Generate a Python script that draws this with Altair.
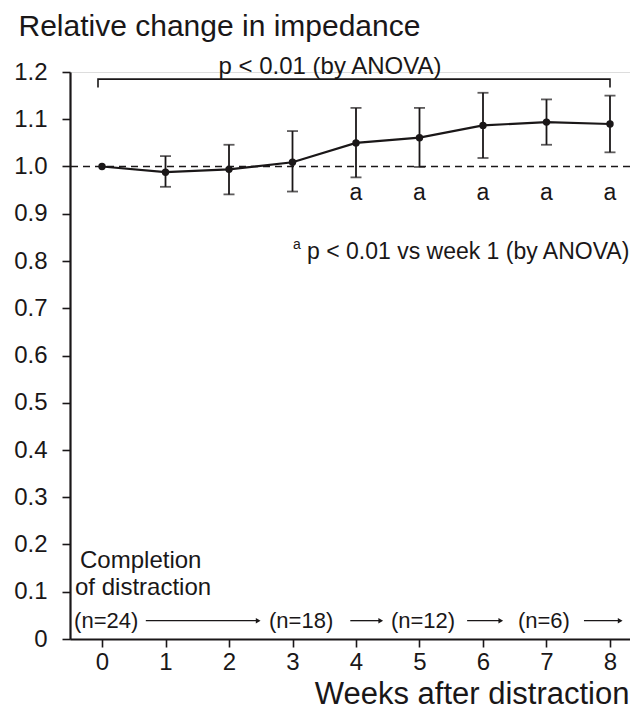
import altair as alt
import pandas as pd

# ---- data ----
weeks = [0, 1, 2, 3, 4, 5, 6, 7, 8]
means = [1.000, 0.988, 0.994, 1.009, 1.050, 1.061, 1.087, 1.094, 1.090]
upper = [None, 1.022, 1.046, 1.075, 1.124, 1.124, 1.156, 1.142, 1.150]
lower = [None, 0.957, 0.941, 0.947, 0.977, 0.999, 1.018, 1.046, 1.030]
sig_weeks = [4, 5, 6, 7, 8]
y_ticks = [0, 0.1, 0.2, 0.3, 0.4, 0.5, 0.6, 0.7, 0.8, 0.9, 1.0, 1.1, 1.2]
x_ticks = [0, 1, 2, 3, 4, 5, 6, 7, 8]

n_labels = ["(n=24)", "(n=18)", "(n=12)", "(n=6)"]
n_label_x = [-0.44, 2.63, 4.55, 6.55]
arrow_start = [0.69, 3.91, 5.75, 7.59]
arrow_end = [2.46, 4.39, 6.28, 8.16]

bracket_x = [-0.063, -0.063, 8.0, 8.0]
bracket_y = [1.167, 1.185, 1.185, 1.167]

FONT = "Liberation Sans"
INK = "#1a1718"

df = pd.DataFrame({"week": weeks, "mean": means, "upper": upper, "lower": lower})
x_scale = alt.Scale(domain=[-0.504, 8.315], nice=False, zero=False)
y_scale = alt.Scale(domain=[0, 1.2], nice=False, zero=False)

x_axis = alt.Axis(values=x_ticks, format="d", grid=False, tickSize=8, tickWidth=1.6,
                  domainWidth=2.2, domainColor=INK, tickColor=INK, labelColor=INK,
                  labelFont=FONT, labelFontSize=24, labelBaseline="alphabetic",
                  labelPadding=22, title="Weeks after distraction", titleFont=FONT,
                  titleFontSize=31, titleFontWeight="normal", titleColor=INK,
                  titleAlign="right", titleBaseline="alphabetic", titleX=559, titleY=64)
y_axis = alt.Axis(values=y_ticks, grid=False, tickSize=8, tickWidth=1.6, domainWidth=2.2,
                  domainColor=INK, tickColor=INK, labelColor=INK, labelFont=FONT,
                  labelFontSize=24, labelPadding=15, labelBaseline="middle",
                  labelExpr="datum.value == 0 ? '0' : format(datum.value, '.1f')",
                  title="Relative change in impedance", titleFont=FONT, titleFontSize=30,
                  titleFontWeight="normal", titleColor=INK, titleAngle=0,
                  titleAlign="left", titleBaseline="alphabetic", titleX=-52, titleY=-37)


def X(field):
    return alt.X(field, type="quantitative", scale=x_scale, axis=x_axis)


def Y(field):
    return alt.Y(field, type="quantitative", scale=y_scale, axis=y_axis)


base = alt.Chart(df)

line = base.mark_line(color=INK, strokeWidth=2.2).encode(x=X("week"), y=Y("mean"))
points = base.mark_point(filled=True, size=55, color=INK, opacity=1).encode(
    x=X("week"), y=Y("mean"))

errs = base.transform_filter("isValid(datum.lower)").mark_errorbar(
    ticks={"size": 11, "thickness": 1.8}, rule={"strokeWidth": 1.8}, color=INK
).encode(x=X("week"), y=Y("lower"), y2="upper:Q")

ref = alt.Chart(pd.DataFrame({"y": [1.0]})).mark_rule(
    color=INK, strokeWidth=1.6, strokeDash=[7, 5]).encode(y=Y("y"))

bracket = alt.Chart(pd.DataFrame({"x": bracket_x, "y": bracket_y, "o": [0, 1, 2, 3]})).mark_line(
    color=INK, strokeWidth=1.6).encode(x=X("x"), y=Y("y"), order="o:Q")


def txt(texts, xs, ys, size=23, align="left", baseline="alphabetic"):
    d = pd.DataFrame({"t": texts, "x": xs, "y": ys})
    return alt.Chart(d).mark_text(font=FONT, fontSize=size, color=INK, align=align,
                                  baseline=baseline).encode(
        x=X("x"), y=Y("y"), text="t:N")


anova = txt(["p < 0.01 (by ANOVA)"], [3.59], [1.1965], size=24, align="center")
a_marks = txt(["a"] * len(sig_weeks), sig_weeks, [0.9297] * len(sig_weeks), align="center")
sup_a = txt(["a"], [3.008], [0.826], size=14)
note = txt(["p < 0.01 vs week 1 (by ANOVA)"], [3.228], [0.8047])
completion = txt(["Completion", "of distraction"], [-0.346, -0.425], [0.150, 0.0932], size=24)
n_text = txt(n_labels, n_label_x, [0.0233] * 4, size=22)

arr_df = pd.DataFrame({"x1": arrow_start, "x2": arrow_end, "y": [0.0388] * 4})
arrows = alt.Chart(arr_df).mark_rule(color=INK, strokeWidth=1.3).encode(
    x=X("x1"), x2="x2:Q", y=Y("y"))
heads = alt.Chart(arr_df).mark_point(shape="triangle-right", filled=True, size=30,
                                     color=INK, opacity=1, dx=-3).encode(
    x=X("x2"), y=Y("y"))

chart = alt.layer(ref, bracket, errs, line, points, anova, a_marks, sup_a, note,
                  completion, n_text, arrows, heads).properties(
    width=560, height=567,
    padding={"left": 62, "top": 64, "right": 0, "bottom": 71},
    autosize=alt.AutoSizeParams(type="none"),
).configure_view(stroke=None).configure(background="white")

chart.save("out.html", embed_options={"renderer": "svg", "actions": False})
